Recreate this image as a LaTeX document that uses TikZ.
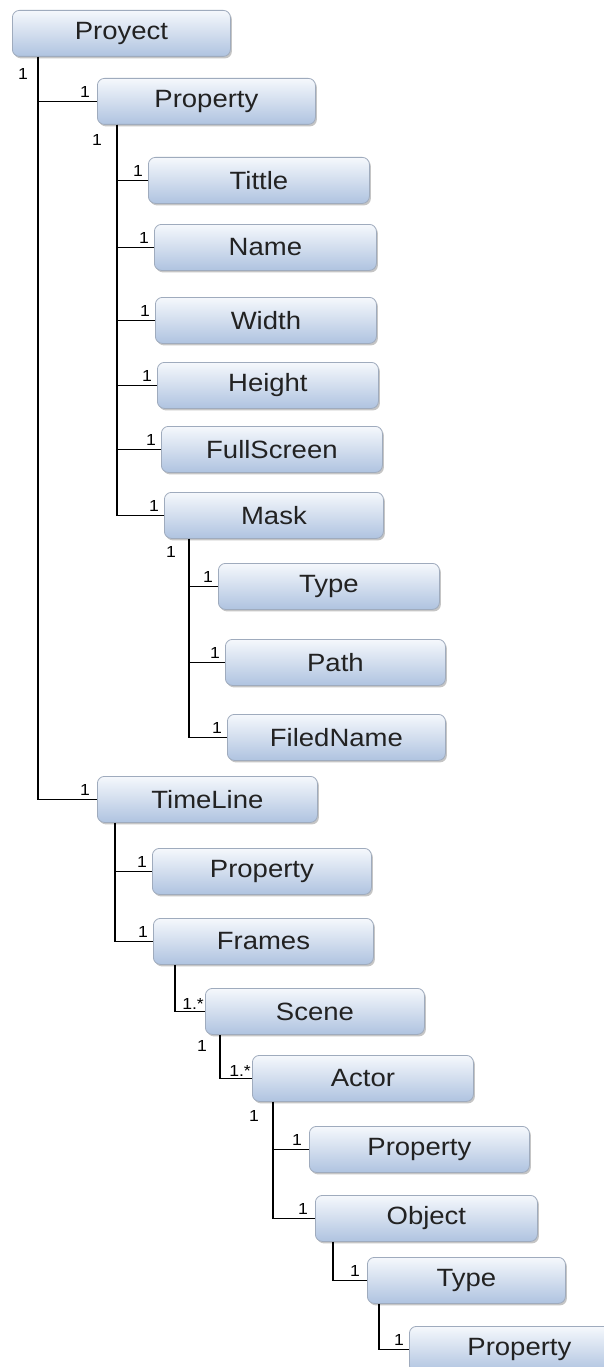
\documentclass[tikz,border=0pt]{standalone}
\usepackage{fontspec}
\setmainfont{Liberation Sans}[FakeStretch=1.1]
\usetikzlibrary{shadows,calc}

\definecolor{boxtop}{HTML}{F5F8FC}
\definecolor{boxbot}{HTML}{AFC3E0}
\definecolor{boxline}{HTML}{9FABBD}
\definecolor{boxtext}{HTML}{222222}

\tikzset{
  entity/.style={rounded corners=7pt, draw=boxline, line width=0.8pt,
    top color=boxtop, bottom color=boxbot,
    minimum width=#1, minimum height=46pt, inner sep=0pt, anchor=north west,
    font=\fontsize{25}{28}\selectfont, text=boxtext,
    drop shadow={shadow xshift=1.5pt, shadow yshift=-2pt, fill=black!50, opacity=0.45}},
  entity/.default=220pt,
  link/.style={line width=1.5pt, black},
  mult/.style={font=\fontsize{16}{18}\selectfont, inner sep=1pt, anchor=south east},
  pmult/.style={font=\fontsize{16}{18}\selectfont, inner sep=1pt, anchor=north east},
}

\begin{document}
\begin{tikzpicture}[x=1pt, y=-1pt]
  \useasboundingbox (0,0) rectangle (604,1367);
  \clip (0,0) rectangle (604,1367);
  \fill[white] (0,0) rectangle (604,1367);

  % entities
  \node[entity=218pt] (proyect)    at (12,10)    {Proyect};
  \node[entity=218pt] (prop1)      at (97,78)    {Property};
  \node[entity=221pt] (tittle)     at (148,157)  {Tittle};
  \node[entity=222pt] (name)       at (154,224)  {Name};
  \node[entity=221pt] (width)      at (155,297)  {Width};
  \node[entity=221pt] (height)     at (157,362)  {Height};
  \node[entity=221pt] (fullscreen) at (161,426)  {FullScreen};
  \node[entity=219pt] (mask)       at (164,492)  {Mask};
  \node[entity=221pt] (mtype)      at (218,563)  {Type};
  \node[entity=220pt] (path)       at (225,639)  {Path};
  \node[entity=218pt] (filedname)  at (227,714)  {FiledName};
  \node[entity=220pt] (timeline)   at (97,776)   {TimeLine};
  \node[entity=219pt] (prop2)      at (152,848)  {Property};
  \node[entity=220pt] (frames)     at (153,918)  {Frames};
  \node[entity=219pt] (scene)      at (205,988)  {Scene};
  \node[entity=221pt] (actor)      at (252,1055) {Actor};
  \node[entity=220pt] (prop3)      at (309,1126) {Property};
  \node[entity=222pt] (object)     at (315,1195) {Object};
  \node[entity=198pt] (otype)      at (367,1257) {Type};
  \node[entity=220pt] (prop4)      at (409,1326) {Property};

  % Proyect
  \draw[link] ([xshift=26pt]proyect.south west) |- (prop1.west);
  \draw[link] ([xshift=26pt]proyect.south west) |- (timeline.west);
  \node[pmult] (lp0) at ([xshift=17pt,yshift=-10pt]proyect.south west) {1};
  \node[mult] (lc1) at ([xshift=-6pt,yshift=3pt]prop1.west) {1};
  \node[mult] (lc2) at ([xshift=-6pt,yshift=3pt]timeline.west) {1};

  % Property of Proyect
  \foreach \c in {tittle,name,width,height,fullscreen,mask}{
    \draw[link] ([xshift=20pt]prop1.south west) |- (\c.west);
    \node[mult] (l\c) at ([xshift=-4pt,yshift=3pt]\c.west) {1};
  }
  \node[pmult] (lp1) at ([xshift=6pt,yshift=-8pt]prop1.south west) {1};

  % Mask
  \foreach \c in {mtype,path,filedname}{
    \draw[link] ([xshift=25pt]mask.south west) |- (\c.west);
    \node[mult] (l\c) at ([xshift=-4pt,yshift=3pt]\c.west) {1};
  }
  \node[pmult] (lp2) at ([xshift=13pt,yshift=-6pt]mask.south west) {1};

  % TimeLine
  \foreach \c in {prop2,frames}{
    \draw[link] ([xshift=18pt]timeline.south west) |- (\c.west);
    \node[mult] (l\c) at ([xshift=-4pt,yshift=3pt]\c.west) {1};
  }

  % Frames -> Scene
  \draw[link] ([xshift=22pt]frames.south west) |- (scene.west);
  \node[mult] (lscene) at ([xshift=0pt,yshift=1pt]scene.west) {1.*};

  % Scene -> Actor
  \draw[link] ([xshift=15pt]scene.south west) |- (actor.west);
  \node[mult] (lactor) at ([xshift=0pt,yshift=1pt]actor.west) {1.*};
  \node[pmult] (lp3) at ([xshift=3pt,yshift=-4pt]scene.south west) {1};

  % Actor
  \foreach \c in {prop3,object}{
    \draw[link] ([xshift=21pt]actor.south west) |- (\c.west);
    \node[mult] (l\c) at ([xshift=-6pt,yshift=3pt]\c.west) {1};
  }
  \node[pmult] (lp4) at ([xshift=8pt,yshift=-7pt]actor.south west) {1};

  % Object -> Type -> Property
  \draw[link] ([xshift=18pt]object.south west) |- (otype.west);
  \node[mult] (lotype) at ([xshift=-6pt,yshift=3pt]otype.west) {1};
  \draw[link] ([xshift=12pt]otype.south west) |- (prop4.west);
  \node[mult] (lprop4) at ([xshift=-4pt,yshift=3pt]prop4.west) {1};
\end{tikzpicture}
\end{document}
